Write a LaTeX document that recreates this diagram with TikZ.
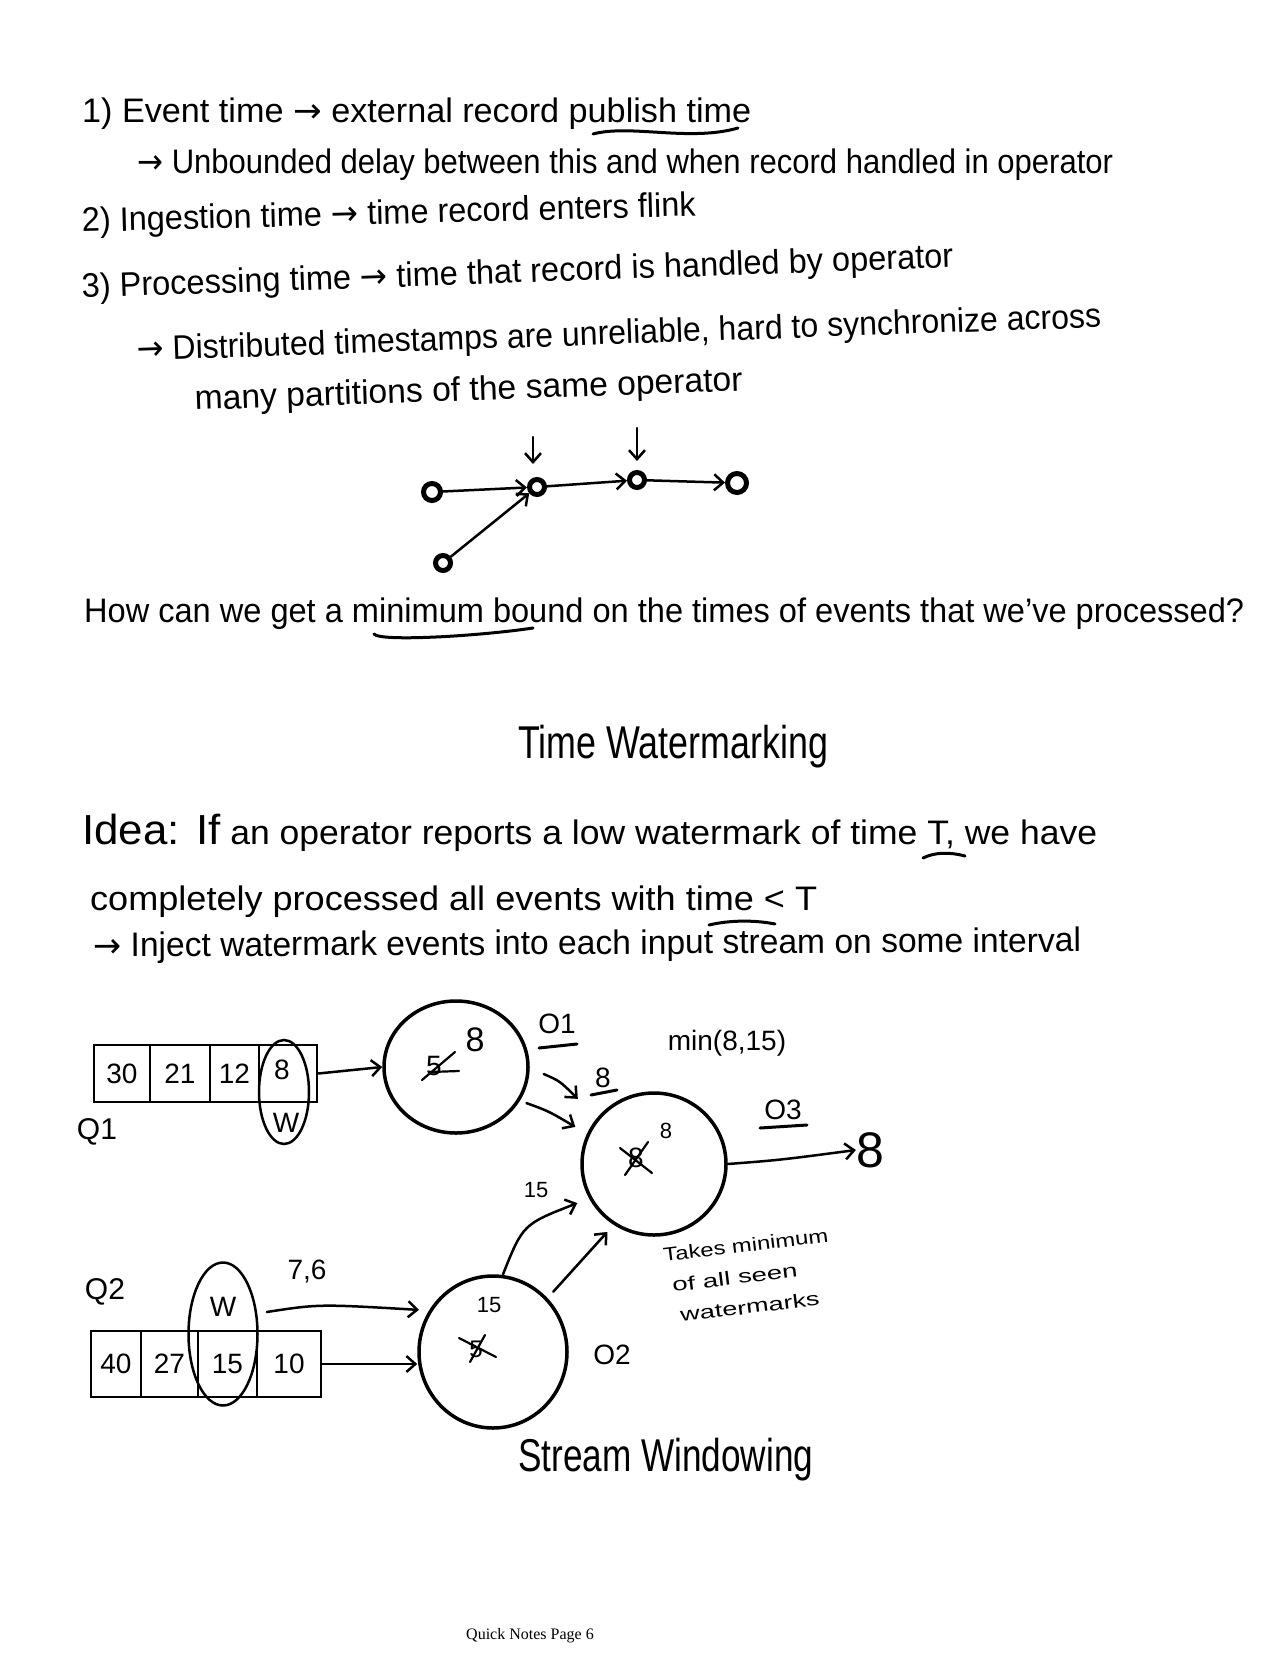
\documentclass[tikz,border=0pt]{standalone}
\usepackage{fontspec}
\usepackage{graphicx}
\setmainfont{Liberation Sans}
\newfontfamily\footfont{Liberation Serif}
\newfontfamily\arrf{DejaVu Sans}
\newcommand\ra{{\arrf →}}
\usetikzlibrary{arrows.meta,shapes.geometric}
\newcommand\fw[2]{\resizebox{#1pt}{\height}{#2}}
\begin{document}
\begin{tikzpicture}[x=1pt,y=-1pt,
  hw/.style={inner sep=0pt,anchor=base west,font=\fontsize{34}{38}\selectfont},
  ttl/.style={inner sep=0pt,anchor=base west,font=\fontsize{46}{50}\selectfont},
  lbl/.style={inner sep=0pt,font=\fontsize{28}{30}\selectfont},
  sml/.style={inner sep=0pt,font=\fontsize{22}{24}\selectfont},
  note/.style={inner sep=0pt,anchor=base west,rotate=7,font=\fontsize{19}{20}\selectfont},
  ink/.style={line width=3pt,line cap=round,line join=round},
  thin/.style={line width=2.2pt,line cap=round,line join=round},
  arr/.style={line width=2.5pt,line cap=round,-{Straight Barb[length=9pt,width=16pt,line width=2.5pt]}},
  dot/.style={circle,draw,line width=5pt,minimum size=15pt,inner sep=0pt},
  cell/.style={draw,line width=2.5pt,inner sep=0pt,font=\fontsize{28}{30}\selectfont},
  oper/.style={ellipse,draw,line width=3.5pt,inner sep=0pt},
  wov/.style={ellipse,draw,line width=2.5pt,inner sep=0pt},
]
\useasboundingbox[fill=white] (0,0) rectangle (1275,1653);

% ---------- top notes ----------
\node[hw] (l1) at (82,123) {\fw{669}{1) Event time \ra{} external record publish time}};
\draw[ink] (593,134) .. controls (630,124) and (690,142) .. (738,128);
\node[hw] (l2) at (137,174) {\fw{976}{\ra{} Unbounded delay between this and when record handled in operator}};
\node[hw,rotate=1.5] (l3) at (82,232) {\fw{614}{2) Ingestion time \ra{} time record enters flink}};
\node[hw,rotate=2] (l4) at (82,298) {\fw{872}{3) Processing time \ra{} time that record is handled by operator}};
\node[hw,rotate=2] (l5) at (137,361) {\fw{965}{\ra{} Distributed timestamps are unreliable, hard to synchronize across}};
\node[hw,rotate=2] (l6) at (195,410) {\fw{548}{many partitions of the same operator}};

% ---------- small graph ----------
\node[dot,minimum size=17pt] (g1) at (432,492) {};
\node[dot] (g2) at (537,487) {};
\node[dot] (g3) at (637,480) {};
\node[dot,minimum size=19pt] (g4) at (737,483) {};
\node[dot] (g5) at (443,563) {};
\draw[arr] (g1) -- (g2);
\draw[arr] (g5) -- (g2);
\draw[arr] (g2) -- (g3);
\draw[arr] (g3) -- (g4);
\coordinate (d1a) at (533,437); \coordinate (d1b) at (533,464);
\coordinate (d2a) at (637,428); \coordinate (d2b) at (637,461);
\draw[arr] (d1a) -- (d1b);
\draw[arr] (d2a) -- (d2b);

\node[hw] (q) at (84,622) {\fw{1160}{How can we get a minimum bound on the times of events that we've processed?}};
\draw[ink] (374,634) .. controls (380,642) and (480,636) .. (533,628);

% ---------- Time Watermarking ----------
\node[ttl] (t1) at (518,758) {\fw{310}{Time Watermarking}};
\node[hw] (i1) at (82,844) {\fw{1015}{{\fontsize{42}{44}\selectfont Idea: If} an operator reports a low watermark of time T, we have}};
\draw[ink] (923,858) .. controls (935,852) and (950,852) .. (965,856);
\node[hw] (i2) at (90,910) {\fw{727}{completely processed all events with time < T}};
\draw[ink] (709,925) .. controls (730,920) and (755,920) .. (775,924);
\node[hw,rotate=0.3] (i3) at (93,957) {\fw{988}{\ra{} Inject watermark events into each input stream on some interval}};

% ---------- Q1 ----------
\node[cell,minimum width=56pt,minimum height=57pt] (q11) at (122,1073.5) {30};
\node[cell,minimum width=60pt,minimum height=57pt] (q12) at (180,1073.5) {21};
\node[cell,minimum width=49pt,minimum height=57pt] (q13) at (234.5,1073.5) {12};
\node[cell,minimum width=58pt,minimum height=57pt] (q14) at (288,1073.5) {};
\node[lbl] at (282,1070) {8};
\node[wov,minimum width=50pt,minimum height=104pt] (wq1) at (284,1092) {};
\node[lbl] (wq1t) at (286,1123) {W};
\node[lbl,font=\fontsize{30}{32}\selectfont] (q1l) at (97,1132) {Q1};

% ---------- operators ----------
\node[oper,minimum width=144pt,minimum height=132pt] (O1) at (456,1067) {};
\node[oper,minimum width=144pt,minimum height=142pt] (O3) at (654,1164) {};
\node[oper,minimum width=148pt,minimum height=152pt] (O2) at (493,1352) {};

% O1 contents
\node[lbl] (o1a) at (434,1066) {5};
\draw[thin] (422,1080) -- (455,1052);
\draw[thin] (430,1072) -- (459,1071);
\node[lbl,font=\fontsize{34}{36}\selectfont] (o1b) at (475,1040) {8};
\node[lbl] (o1n) at (557,1024) {O1};
\draw[ink] (539,1048) -- (577,1044);

% O3 contents
\node[lbl] (o3a) at (636,1158) {8};
\draw[thin] (625,1175) -- (648,1142);
\draw[thin] (620,1148) -- (652,1173);
\node[sml] (o3b) at (666,1131) {8};
\node[lbl] (o3n) at (783,1110) {O3};
\draw[ink] (760,1128) -- (807,1125);
\node[lbl] (mn) at (727,1043) {min(8,15)};

% O2 contents
\node[sml] (o2a) at (489,1305) {15};
\node[lbl,font=\fontsize{24}{26}\selectfont] (o2b) at (476,1349) {5};
\draw[thin] (459,1338) -- (496,1357);
\draw[thin] (470,1362) -- (485,1335);
\node[lbl] (o2n) at (612,1355) {O2};

% ---------- Q2 ----------
\node[cell,minimum width=50pt,minimum height=66pt] (q21) at (116,1364) {40};
\node[cell,minimum width=57pt,minimum height=66pt] (q22) at (169.5,1364) {27};
\node[cell,minimum width=59pt,minimum height=66pt] (q23) at (227.5,1364) {15};
\node[cell,minimum width=64pt,minimum height=66pt] (q24) at (289,1364) {10};
\node[wov,minimum width=69pt,minimum height=143pt] (wq2) at (223,1334) {};
\node[lbl] (wq2t) at (223,1307) {W};
\node[lbl,font=\fontsize{30}{32}\selectfont] (q2l) at (105,1292) {Q2};
\node[lbl] (r76) at (307,1271) {7,6};

% ---------- connectors ----------
\draw[arr] (q14.east) -- (O1.west);
\draw[arr] ([shift={(14,7)}]O1.east) .. controls ([shift={(30,14)}]O1.east) .. ([shift={(-20,-18)}]O3.140);
\draw[arr] ([shift={(8,0)}]O1.-30) .. controls ([shift={(30,8)}]O1.-30) .. ([shift={(-12,-6)}]O3.155);
\node[lbl] (o3in) at (603,1078) {8};
\draw[ink] (591,1095) -- (617,1090);

\draw[arr] ([shift={(8,-22)}]wq2.east) .. controls ([shift={(60,-30)}]wq2.east) .. ([shift={(-8,-4)}]O2.150);
\draw[arr] (q24.east) -- (O2.west |- q24.east);
\draw[arr] ([shift={(10,0)}]O2.north) .. controls ([shift={(30,-50)}]O2.north) .. ([shift={(-10,8)}]O3.205);
\draw[arr] ([shift={(6,-6)}]O2.45) -- ([shift={(-8,6)}]O3.238);
\node[sml] (w15) at (536,1190) {15};

\node[lbl,font=\fontsize{50}{52}\selectfont] (out) at (870,1150) {8};
\draw[arr] (O3.east) .. controls (780,1160) .. (out.west);

\node[note] (tk1) at (664,1262) {\fw{166}{Takes minimum}};
\node[note] (tk2) at (673,1292) {\fw{126}{of all seen}};
\node[note] (tk3) at (681,1322) {\fw{140}{watermarks}};

\node[ttl] (t2) at (518,1471) {\fw{295}{Stream Windowing}};

\node[inner sep=0pt,font=\footfont\fontsize{16}{18}\selectfont] (foot) at (530,1636) {Quick Notes Page 6};
\end{tikzpicture}
\end{document}
